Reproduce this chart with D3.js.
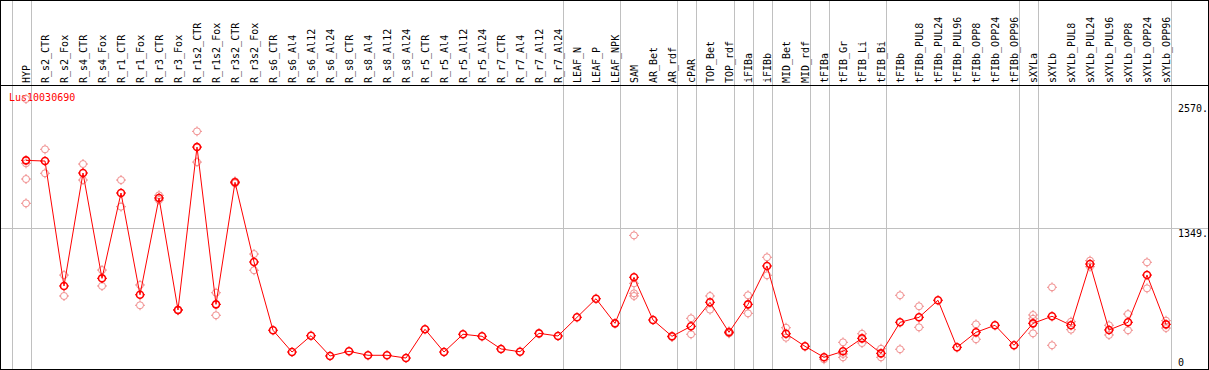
<!DOCTYPE html>
<html><head><meta charset="utf-8">
<script src="https://cdn.jsdelivr.net/npm/d3@7"></script>
<style>html,body{margin:0;padding:0;background:#fff;overflow:hidden}</style>
</head><body><svg id="c" width="1209" height="370"></svg>
<script>
const geneName = "Lus10030690";
const categories = ["HYP","R_s2_CTR","R_s2_Fox","R_s4_CTR","R_s4_Fox","R_r1_CTR","R_r1_Fox","R_r3_CTR","R_r3_Fox","R_r1s2_CTR","R_r1s2_Fox","R_r3s2_CTR","R_r3s2_Fox","R_s6_CTR","R_s6_Al4","R_s6_Al12","R_s6_Al24","R_s8_CTR","R_s8_Al4","R_s8_Al12","R_s8_Al24","R_r5_CTR","R_r5_Al4","R_r5_Al12","R_r5_Al24","R_r7_CTR","R_r7_Al4","R_r7_Al12","R_r7_Al24","LEAF_N","LEAF_P","LEAF_NPK","SAM","AR_Bet","AR_rdf","cPAR","TOP_Bet","TOP_rdf","iFIBa","iFIBb","MID_Bet","MID_rdf","tFIBa","tFIB_Gr","tFIB_Li","tFIB_Bi","tFIBb","tFIBb_PUL8","tFIBb_PUL24","tFIBb_PUL96","tFIBb_OPP8","tFIBb_OPP24","tFIBb_OPP96","sXYLa","sXYLb","sXYLb_PUL8","sXYLb_PUL24","sXYLb_PUL96","sXYLb_OPP8","sXYLb_OPP24","sXYLb_OPP96"];
const meanValues = [2015,2008,784,1891,859,1695,698,1646,549,2145,604,1800,1019,350,137,297,98,144,105,105,78,360,137,311,291,167,140,320,294,477,659,418,869,451,291,389,624,330,604,980,316,193,85,144,271,124,428,477,644,183,330,399,203,418,487,399,999,353,428,891,408];
const replicateValues = [[2616,1986,1832,1594],[2123,1888],[891,686],[1979,1822],[940,784],[1822,1561],[794,595],[1672,1626],[545,553],[2299,1998],[718,497],[1809,1790],[1097,938],[],[],[],[],[],[],[],[],[],[],[],[],[],[],[],[],[],[],[],[1280,810,712,686],[],[284],[467,311],[686,552],[340,320],[693,516],[1065,889],[375,277],[],[66],[232,118,85],[316,225],[169,85],[693,164],[585,379],[],[],[408,262],[],[],[500,463,320],[771,203],[434,356],[1032,973],[399,304],[509,350],[1016,761],[444,372]];
// group separators: drawn just right of these category indices (-1 = left edge)
const groupEndIndices = [-1,0,28,31,34,35,37,38,39,41,42,45,52,53,60];
const yTickValues = [0,1349,2570];
const yTickLabels = ["0","1349.","2570."];
const gridValues = [1349];

const W = 1209, H = 370;
const svg = d3.select("#c");
const font = "'DejaVu Sans Mono', monospace";
const RED = "#ff0000", PINK = "#f08c8c", GRAY = "#c0c0c0";

const x = d3.scalePoint().domain(categories).range([26, 1166]);
const y = d3.scaleLinear().domain([0, 2570]).range([366, 103.7]);
const step = x.step();
const xi = i => x(categories[0]) + i * step;

svg.append("rect").attr("width", W).attr("height", H).attr("fill", "#fff");

// horizontal grid
svg.selectAll("line.hg").data(gridValues).join("line")
  .attr("x1", 0).attr("x2", W).attr("y1", d => Math.round(y(d)) + 0.5).attr("y2", d => Math.round(y(d)) + 0.5)
  .attr("stroke", GRAY).attr("stroke-width", 1);

// group separators
svg.selectAll("line.vg").data(groupEndIndices).join("line")
  .attr("x1", d => Math.round(xi(d) + 4.5) + 0.5).attr("x2", d => Math.round(xi(d) + 4.5) + 0.5)
  .attr("y1", 0).attr("y2", H)
  .attr("stroke", GRAY).attr("stroke-width", 1);

// frame
svg.append("line").attr("x1", 0).attr("x2", W).attr("y1", 85.5).attr("y2", 85.5).attr("stroke", "#000");
svg.append("rect").attr("x", 0.5).attr("y", 0.5).attr("width", W - 1).attr("height", H - 1)
  .attr("fill", "none").attr("stroke", "#000");

// category labels
svg.selectAll("text.cat").data(categories).join("text")
  .attr("transform", d => `translate(${x(d) + 4},83) rotate(-90)`)
  .attr("font-family", font).attr("font-size", 10).attr("fill", "#000")
  .text(d => d);

// y labels
svg.selectAll("text.yl").data(yTickValues).join("text")
  .attr("x", 1178).attr("y", d => d === 0 ? y(d) : y(d) + 8.5)
  .attr("font-family", font).attr("font-size", 10).attr("fill", "#000")
  .text((d, i) => yTickLabels[i]);

// title
svg.append("text").attr("x", 9).attr("y", 101).attr("font-family", font).attr("font-size", 10)
  .attr("fill", RED).text(geneName);

function marker(g, cx, cy, color, sw) {
  g.append("circle").attr("cx", cx).attr("cy", cy).attr("r", 3.5)
    .attr("fill", "none").attr("stroke", color).attr("stroke-width", sw);
  const t = [[0,-1],[0,1],[-1,0],[1,0]];
  t.forEach(([dx, dy]) => {
    g.append("line").attr("x1", cx + dx * 3.5).attr("y1", cy + dy * 3.5)
      .attr("x2", cx + dx * 5).attr("y2", cy + dy * 5)
      .attr("stroke", color).attr("stroke-width", 1);
  });
}

// replicates
const rg = svg.append("g");
replicateValues.forEach((reps, i) => {
  reps.forEach(v => marker(rg, x(categories[i]), y(v), PINK, 1));
});

// mean line
const line = d3.line().x((d, i) => x(categories[i])).y(d => y(d));
svg.append("path").datum(meanValues).attr("d", line)
  .attr("fill", "none").attr("stroke", RED).attr("stroke-width", 1);

// mean markers
const mg = svg.append("g");
meanValues.forEach((v, i) => marker(mg, x(categories[i]), y(v), RED, 1.6));
</script></body></html>
